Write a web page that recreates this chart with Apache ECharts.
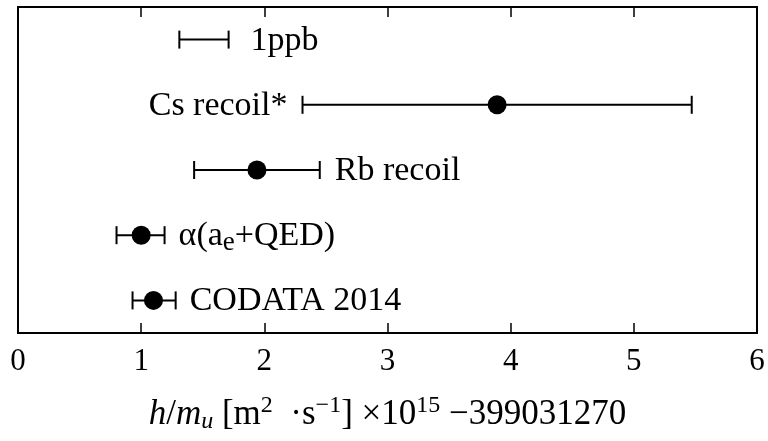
<!DOCTYPE html>
<html>
<head>
<meta charset="utf-8">
<script src="https://cdn.jsdelivr.net/npm/echarts@6/dist/echarts.min.js"></script>
<style>html,body{margin:0;padding:0;background:#fff}#c{width:768px;height:441px}</style>
</head>
<body>
<div id="c"></div>
<script>
// Data
var categories = ['CODATA 2014', 'α(ae+QED)', 'Rb recoil', 'Cs recoil*', '1ppb'];
var labelTexts = ['CODATA 2014', 'α(a{e|e}+QED)', 'Rb recoil', 'Cs recoil*', '1ppb'];
var centers = [1.10, 1.00, 1.94, 3.89, null];
var lows = [0.93, 0.80, 1.43, 2.31, 1.31];
var highs = [1.28, 1.19, 2.45, 5.47, 1.71];
var labelSide = ['right', 'right', 'right', 'left', 'right'];
var labelGap = [14, 14, 15, 15, 22];
var xTicks = [0, 1, 2, 3, 4, 5, 6];

var FONT = '"Liberation Serif", "DejaVu Serif", serif';

var barData = categories.map(function (c, i) { return [lows[i], highs[i], i]; });
var pointData = [];
centers.forEach(function (v, i) { if (v !== null) pointData.push([v, i]); });

var chart = echarts.init(document.getElementById('c'), null, {renderer: 'canvas'});
chart.setOption({
  animation: false,
  backgroundColor: '#fff',
  grid: {left: 18, right: 11, top: 7, bottom: 101, show: true, borderColor: '#000', borderWidth: 2, backgroundColor: 'transparent'},
  xAxis: [{
    type: 'value', min: xTicks[0], max: xTicks[xTicks.length - 1], interval: 1, position: 'bottom',
    axisLine: {show: true, onZero: false, lineStyle: {color: '#000', width: 2}},
    axisTick: {show: true, inside: true, length: 10, lineStyle: {color: '#000', width: 1.5}},
    splitLine: {show: false},
    axisLabel: {color: '#000', fontSize: 31, fontFamily: FONT, margin: 13},
    name: '{i|h}/{i|m}{sub|u} [m{sup|2}  ·s{sup|−1}] ×10{sup|15} −399031270',
    nameLocation: 'middle', nameGap: 62,
    nameTextStyle: {
      color: '#000', fontSize: 35, fontFamily: FONT, lineHeight: 40,
      rich: {
        i: {fontStyle: 'italic', fontSize: 35, fontFamily: FONT, color: '#000', lineHeight: 40},
        sub: {fontStyle: 'italic', fontSize: 24, fontFamily: FONT, color: '#000', lineHeight: 40, padding: [14, 0, 0, 0]},
        sup: {fontSize: 24, fontFamily: FONT, color: '#000', lineHeight: 40, padding: [0, 0, 18, 0]}
      }
    }
  }, {
    type: 'value', min: xTicks[0], max: xTicks[xTicks.length - 1], interval: 1, position: 'top',
    axisLine: {show: true, lineStyle: {color: '#000', width: 2}},
    axisTick: {show: true, inside: true, length: 10, lineStyle: {color: '#000', width: 1.5}},
    splitLine: {show: false},
    axisLabel: {show: false}
  }],
  yAxis: {
    type: 'category', data: categories, boundaryGap: true,
    axisLine: {show: false}, axisTick: {show: false}, axisLabel: {show: false}, splitLine: {show: false}
  },
  series: [{
    type: 'custom',
    data: barData,
    encode: {x: [0, 1], y: 2},
    renderItem: function (params, api) {
      var i = api.value(2);
      var p0 = api.coord([api.value(0), i]);
      var p1 = api.coord([api.value(1), i]);
      var h = 9;
      var side = labelSide[i];
      var gap = labelGap[i];
      return {
        type: 'group',
        children: [
          {type: 'line', shape: {x1: p0[0], y1: p0[1], x2: p1[0], y2: p1[1]}, style: {stroke: '#000', lineWidth: 2}},
          {type: 'line', shape: {x1: p0[0], y1: p0[1] - h, x2: p0[0], y2: p0[1] + h}, style: {stroke: '#000', lineWidth: 2}},
          {type: 'line', shape: {x1: p1[0], y1: p1[1] - h, x2: p1[0], y2: p1[1] + h}, style: {stroke: '#000', lineWidth: 2}},
          {type: 'text', style: {
            text: labelTexts[i],
            x: side === 'right' ? p1[0] + gap : p0[0] - gap,
            y: p0[1] + 1,
            align: side === 'right' ? 'left' : 'right',
            verticalAlign: 'middle',
            fill: '#000',
            font: '34px ' + FONT,
            lineHeight: 42,
            rich: {
              e: {fontSize: 27, fontFamily: FONT, fill: '#000', lineHeight: 42, padding: [14, 0, 0, 0]}
            }
          }}
        ]
      };
    },
    z: 2
  }, {
    type: 'scatter',
    data: pointData,
    symbol: 'circle',
    symbolSize: 19,
    itemStyle: {color: '#000', opacity: 1},
    z: 3
  }]
});
</script>
</body>
</html>
